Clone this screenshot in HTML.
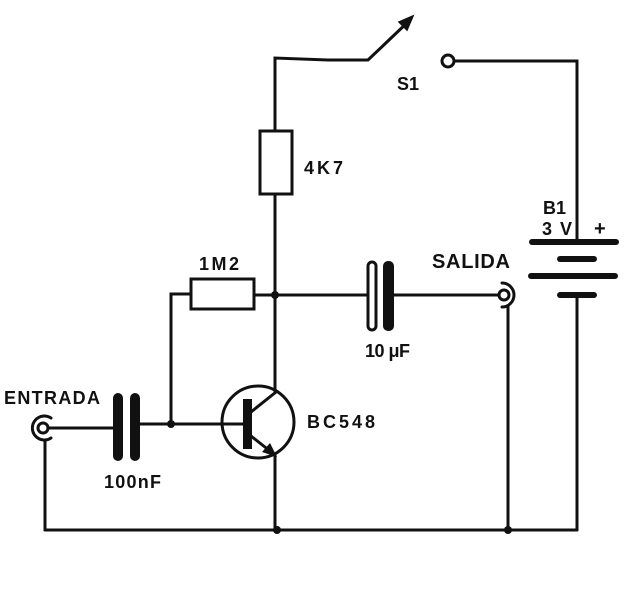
<!DOCTYPE html>
<html><head><style>
html,body{margin:0;padding:0;background:#fff;}
svg{display:block;}
text{font-family:"Liberation Sans",sans-serif;font-weight:bold;fill:#111;}
</style></head><body>
<svg width="625" height="591" viewBox="0 0 625 591" xmlns="http://www.w3.org/2000/svg">
<g stroke="#111" stroke-width="3" fill="none" stroke-linecap="round">
 <polyline points="275,193 275,58 328,60 368,60 410,20"/>
 <polygon points="413,16 399,22 407,30" fill="#111" stroke-width="1.5"/>
 <circle cx="448" cy="61" r="6"/>
 <polyline points="454,61 577,61 577,242"/>
 <rect x="260" y="131" width="32" height="63" fill="#fff"/>
 <line x1="275" y1="194" x2="275" y2="392"/>
 <rect x="191" y="279" width="63" height="30" fill="#fff"/>
 <polyline points="191,294 171,294 171,422"/>
 <line x1="254" y1="295" x2="367" y2="295"/>
 <rect x="368" y="262" width="8" height="68" rx="4"/>
 <line x1="394" y1="295" x2="498" y2="295"/>
 <circle cx="504" cy="295" r="5"/>
 <path d="M502,283 A12,12 0 1 1 502,307"/>
 <line x1="508" y1="307" x2="508" y2="530"/>
 <line x1="577" y1="295" x2="577" y2="530"/>
 <circle cx="43" cy="428" r="5"/>
 <path d="M51,418 A12,12 0 1 0 51,438"/>
 <line x1="48" y1="428" x2="113" y2="428"/>
 <line x1="140" y1="424" x2="243" y2="424"/>
 <line x1="45" y1="440" x2="45" y2="530"/>
 <circle cx="258" cy="422" r="36"/>
 <line x1="251" y1="412" x2="276" y2="392"/>
 <line x1="251" y1="436" x2="275" y2="455"/>
 <line x1="275" y1="455" x2="275" y2="530"/>
 <line x1="45" y1="530" x2="577" y2="530"/>
</g>
<g fill="#111">
 <rect x="243" y="399" width="9" height="50"/>
 <polygon points="277,457 262,452 270,443"/>
 <rect x="383" y="261" width="11" height="70" rx="5"/>
 <rect x="113" y="393" width="10" height="68" rx="5"/>
 <rect x="130" y="393" width="10" height="68" rx="5"/>
 <rect x="529" y="239" width="90" height="6" rx="3"/>
 <rect x="557" y="256" width="40" height="6" rx="3"/>
 <rect x="528" y="273" width="90" height="6" rx="3"/>
 <rect x="557" y="292" width="40" height="6" rx="3"/>
 <circle cx="275" cy="295" r="4"/>
 <circle cx="171" cy="424" r="4"/>
 <circle cx="277" cy="530" r="4"/>
 <circle cx="508" cy="530" r="4"/>
</g>
<text x="4" y="404" font-size="18" textLength="96" lengthAdjust="spacing">ENTRADA</text>
<text x="104" y="488" font-size="18" textLength="57" lengthAdjust="spacing">100nF</text>
<text x="199" y="270" font-size="18" textLength="40" lengthAdjust="spacing">1M2</text>
<text x="307" y="428" font-size="18" textLength="68" lengthAdjust="spacing">BC548</text>
<text x="365" y="357" font-size="18" textLength="45" lengthAdjust="spacing">10 μF</text>
<text x="304" y="174" font-size="18" textLength="39" lengthAdjust="spacing">4K7</text>
<text x="397" y="90" font-size="18">S1</text>
<text x="432" y="268" font-size="20" textLength="78" lengthAdjust="spacing">SALIDA</text>
<text x="543" y="214" font-size="18">B1</text>
<text x="542" y="235" font-size="18" textLength="30" lengthAdjust="spacing">3V</text>
<text x="594" y="235" font-size="20">+</text>
</svg>
</body></html>
